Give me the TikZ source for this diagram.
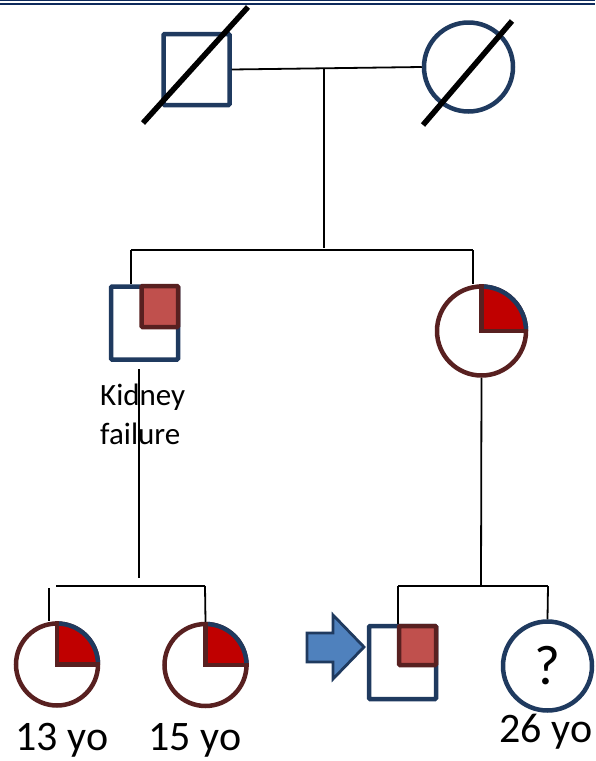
\documentclass[tikz,border=0pt]{standalone}
\usepackage{fontspec}
\setmainfont{Carlito}
\usetikzlibrary{calc}
\definecolor{navy}{HTML}{1F3A5F}
\definecolor{band}{HTML}{0E2A5C}
\definecolor{brn}{HTML}{582020}
\definecolor{qred}{HTML}{C00000}
\definecolor{sred}{HTML}{C0504D}
\definecolor{arrblue}{HTML}{4F81BD}
\tikzset{
  male/.style={draw=navy, line width=4.5pt, rectangle, rounded corners=1pt, minimum width=67pt, minimum height=73pt, inner sep=0pt, fill=white},
  female/.style={draw=navy, line width=4.5pt, circle, minimum size=89pt, inner sep=0pt, fill=white},
  affcirc/.style={draw=brn, line width=4.5pt, circle, inner sep=0pt, fill=white},
  link/.style={draw=black, line width=1.8pt},
  dead/.style={draw=black, line width=5.5pt},
  redsq/.style={draw=brn, line width=4.5pt, fill=sred, rounded corners=1pt},
  lab/.style={font=\fontsize{42}{46}\selectfont, inner sep=0pt, anchor=base}
}
\begin{document}
\begin{tikzpicture}[x=1pt,y=-1pt]
\useasboundingbox (0,0) rectangle (595,761);
% top band
\fill[band] (0,0) rectangle (595,1.3);
\fill[band] (0,3.2) rectangle (595,5.4);

% generation I
\node[male, minimum width=66pt, minimum height=71pt] (father) at (196.5,69.5) {};
\node[female, minimum size=89pt] (mother) at (468.5,67) {};
\draw[dead] (143,123) -- (248,7);
\draw[dead] (423,125) -- (512,21);
\coordinate (mar) at (324,69);
\coordinate (s2) at (324,248);
\draw[link] (father.east) -- (mother.west);
\draw[link] (mar) -- (s2);

% generation II
\node[male] (uncle) at (144.5,323) {};
\draw[redsq] (141.5,286) rectangle (178,327);
\node[affcirc, minimum size=89pt] (aunt) at (481.5,331) {};
\fill[qred] (aunt.center) -- ++(0,-44.5) arc[start angle=-90, end angle=0, radius=44.5] -- cycle;
\draw[navy, line width=4.5pt] ($(aunt.center)+(0,-44.5)$) arc[start angle=-90, end angle=0, radius=44.5];
\draw[brn, line width=4.5pt, line cap=rect] ($(aunt.center)+(0,-44.5)$) -- (aunt.center) -- ++(44.5,0);

\coordinate (g2l) at (131,250);
\coordinate (g2r) at (473,250);
\draw[link] (g2l) -- (g2r);
\draw[link] (g2l) -- (g2l |- uncle.north);
\draw[link] (g2r) -- (g2r |- aunt.north);

\node[anchor=west, align=left, font=\fontsize{31}{39}\selectfont, inner sep=0pt] (kf) at (100,414) {Kidney\\failure};
\coordinate (ud1) at (139,369);
\coordinate (ud2) at (139,578);
\draw[link] (ud1) -- (ud2);

% generation III
\node[affcirc, minimum size=82pt] (c1) at (57,664.5) {};
\node[affcirc, minimum size=82pt] (c2) at (205.5,665) {};
\foreach \c in {c1,c2}{
  \fill[qred] (\c.center) -- ++(0,-41) arc[start angle=-90, end angle=0, radius=41] -- cycle;
  \draw[navy, line width=4.5pt] ($(\c.center)+(0,-41)$) arc[start angle=-90, end angle=0, radius=41];
  \draw[brn, line width=4.5pt, line cap=rect] ($(\c.center)+(0,-41)$) -- (\c.center) -- ++(41,0);
}
\coordinate (g3a) at (56,586);
\coordinate (g3b) at (205,586);
\coordinate (g3c) at (49,588);
\draw[link] (g3a) -- (g3b);
\draw[link] (g3c) -- (g3c |- c1.north);
\draw[link] (g3b) -- (c2.north);

\node[male] (prob) at (402.5,662.5) {};
\draw[redsq] (399,626) rectangle (436,665);
\node[female, minimum size=89pt] (sis) at (547.5,666) {};
\node[font=\fontsize{56}{60}\selectfont, inner sep=0pt] (q) at (sis.center) {?};

\coordinate (g3m) at (481,586);
\coordinate (g3l) at (398,586);
\coordinate (g3r) at (548,586);
\draw[link] (aunt.south) -- (g3m);
\draw[link] (g3l) -- (g3r);
\draw[link] (g3l) -- (g3l |- prob.north);
\draw[link] (g3r) -- (sis.north);

% proband arrow
\draw[navy, line width=2.8pt, fill=arrblue, line join=miter]
  (307,633) -- (333,633) -- (333,615) -- (364,647) -- (333,679) -- (333,662) -- (307,662) -- cycle;

% labels
\node[lab] (l13) at (62,750) {13 yo};
\node[lab] (l15) at (195,750) {15 yo};
\node[lab] (l26) at (546,742) {26 yo};
\end{tikzpicture}
\end{document}
